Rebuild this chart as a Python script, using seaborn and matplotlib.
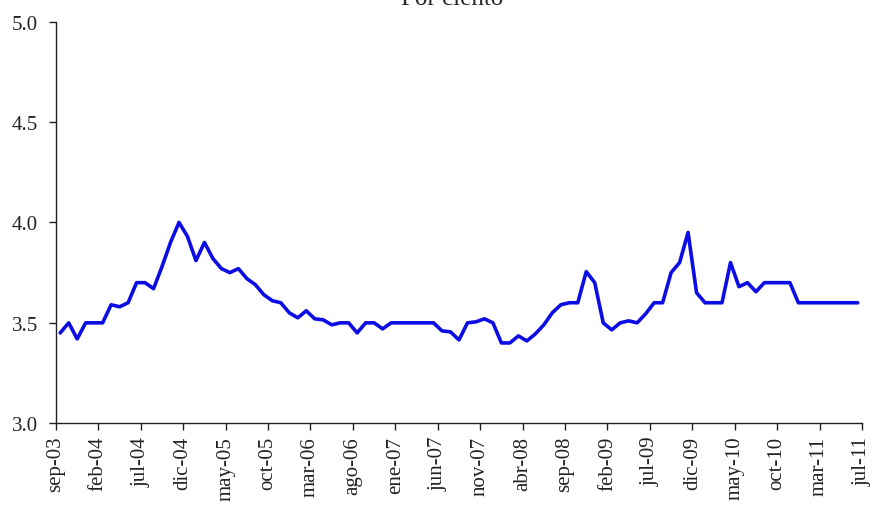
import pandas as pd
import matplotlib.pyplot as plt
import seaborn as sns

sns.set_style('ticks')
plt.rcParams['font.family'] = ['Liberation Serif', 'DejaVu Serif']

# monthly values, sep-03 .. jul-11 (por ciento)
values = [
    3.45, 3.50, 3.42, 3.50, 3.50, 3.50, 3.59, 3.58, 3.60, 3.70,
    3.70, 3.67, 3.78, 3.90, 4.00, 3.93, 3.81, 3.90, 3.82, 3.77,
    3.75, 3.77, 3.72, 3.69, 3.64, 3.61, 3.60, 3.55, 3.525, 3.56,
    3.52, 3.515, 3.49, 3.50, 3.50, 3.45, 3.50, 3.50, 3.47, 3.50,
    3.50, 3.50, 3.50, 3.50, 3.50, 3.46, 3.455, 3.415, 3.50, 3.505,
    3.52, 3.50, 3.40, 3.40, 3.435, 3.41, 3.445, 3.49, 3.55, 3.59,
    3.60, 3.60, 3.755, 3.70, 3.50, 3.465, 3.50, 3.51, 3.50, 3.545,
    3.60, 3.60, 3.75, 3.80, 3.95, 3.65, 3.60, 3.60, 3.60, 3.80,
    3.68, 3.70, 3.655, 3.70, 3.70, 3.70, 3.70, 3.60, 3.60, 3.60,
    3.60, 3.60, 3.60, 3.60, 3.60,
]
tick_labels = ['sep-03', 'feb-04', 'jul-04', 'dic-04', 'may-05', 'oct-05',
               'mar-06', 'ago-06', 'ene-07', 'jun-07', 'nov-07', 'abr-08',
               'sep-08', 'feb-09', 'jul-09', 'dic-09', 'may-10', 'oct-10',
               'mar-11', 'jul-11']
y_ticks = [3.0, 3.5, 4.0, 4.5, 5.0]

df = pd.DataFrame({'idx': range(len(values)), 'val': values})

fig = plt.figure(figsize=(8.73, 5.06), dpi=100)
ax = fig.add_axes([0.0641, 0.1615, 0.9233, 0.794])

sns.lineplot(data=df, x='idx', y='val', ax=ax, color='#0c0ce4', linewidth=2.6)

n = len(values)
ax.set_xlim(-0.5, n - 0.5)
ax.set_ylim(3.0, 5.0)
tick_pos = [i - 0.5 for i in range(0, n - 1, 5)] + [n - 0.5]
ax.set_xticks(tick_pos)
ax.set_xticklabels(tick_labels, rotation=90, fontsize=15)
ax.set_yticks(y_ticks)
ax.set_yticklabels(['{:.1f}'.format(v) for v in y_ticks], fontsize=15)
ax.tick_params(axis='both', direction='out', length=5, width=1, colors='#222222')
ax.tick_params(axis='x', pad=4)
ax.tick_params(axis='y', pad=8)
ax.set_xlabel('')
ax.set_ylabel('')
sns.despine(ax=ax)
for sp in ['left', 'bottom']:
    ax.spines[sp].set_color('#222222')
    ax.spines[sp].set_linewidth(1)

fig.text(452 / 873, 1 - 5 / 506, 'Por ciento', ha='center', va='baseline', fontsize=18)

plt.savefig('out.png', dpi=100)
